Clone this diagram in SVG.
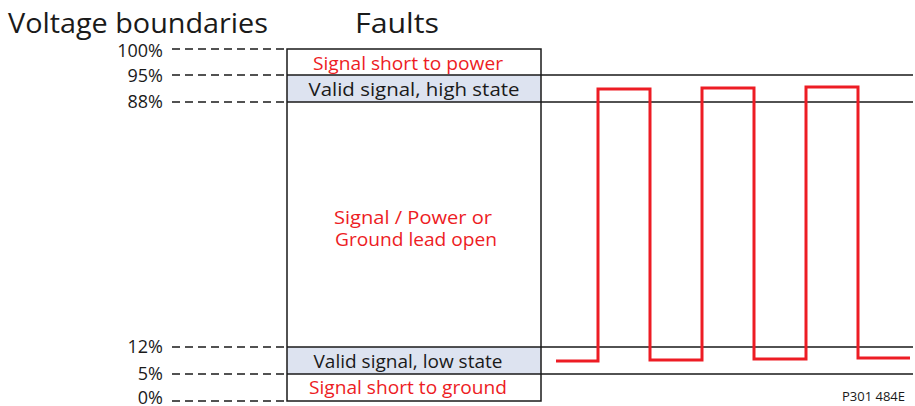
<svg xmlns="http://www.w3.org/2000/svg" width="915" height="406" viewBox="0 0 915 406">
<style>
text{font-family:"Open Sans","Liberation Sans",sans-serif;}
.h{font-size:27px;fill:#1a1a1a;}
.p{font-size:18px;fill:#1a1a1a;text-anchor:end;}
.r{font-size:17.5px;fill:#ed1c24;text-anchor:middle;}
.k{font-size:17.5px;fill:#1a1a1a;text-anchor:middle;}
.dash{stroke:#1a1a1a;stroke-width:1.4;stroke-dasharray:8 5;fill:none;}
.ln{stroke:#1a1a1a;stroke-width:1.5;fill:none;}
.band{fill:#dde3f0;}
.wave{stroke:#ed1c24;stroke-width:3;fill:none;stroke-linejoin:miter;}
</style>
<rect width="915" height="406" fill="#fff"/>
<g id="titles">
<text class="h" x="8" y="33" textLength="260" lengthAdjust="spacingAndGlyphs">Voltage boundaries</text>
<text class="h" x="355" y="33" textLength="84" lengthAdjust="spacingAndGlyphs">Faults</text>
</g>
<g id="scale">
<text class="p" x="163" y="57">100%</text>
<text class="p" x="163" y="82">95%</text>
<text class="p" x="163" y="108">88%</text>
<text class="p" x="163" y="353">12%</text>
<text class="p" x="163" y="380">5%</text>
<text class="p" x="163" y="404">0%</text>
<path class="dash" d="M172 49H287M172 75H287M172 102H287M172 347H287M172 374H287M172 401H287"/>
</g>
<g id="bands">
<rect class="band" x="287" y="75" width="254" height="27"/>
<rect class="band" x="287" y="347" width="254" height="27"/>
</g>
<g id="grid">
<rect class="ln" x="287" y="49" width="254" height="352"/>
<path class="ln" d="M287 75H913M287 102H913M287 347H913M287 374H913"/>
</g>
<g id="labels">
<text class="r" x="408" y="70" textLength="190" lengthAdjust="spacingAndGlyphs">Signal short to power</text>
<text class="k" x="414" y="96" textLength="211" lengthAdjust="spacingAndGlyphs">Valid signal, high state</text>
<text class="r" x="413" y="224" textLength="158" lengthAdjust="spacingAndGlyphs">Signal / Power or</text>
<text class="r" x="416" y="246" textLength="162" lengthAdjust="spacingAndGlyphs">Ground lead open</text>
<text class="k" x="408" y="368" textLength="189" lengthAdjust="spacingAndGlyphs">Valid signal, low state</text>
<text class="r" x="408" y="394" textLength="198" lengthAdjust="spacingAndGlyphs">Signal short to ground</text>
<text x="905" y="401" style="font-size:13px;fill:#1a1a1a;text-anchor:end">P301 484E</text>
</g>
<g id="connectors">
<path class="wave" d="M556 361H598V89H650V360H702V88H754V359H806V87H858V358H910"/>
</g>
</svg>
